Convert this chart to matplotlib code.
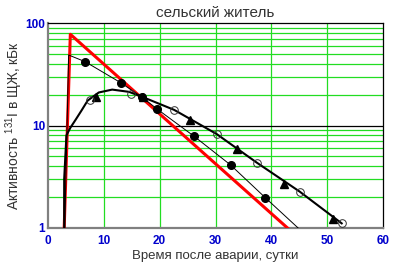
import numpy as np
import matplotlib
matplotlib.use('Agg')
import matplotlib.pyplot as plt

plt.rcParams['font.family'] = ['Liberation Sans', 'DejaVu Sans']
plt.rcParams['mathtext.fontset'] = 'custom'
plt.rcParams['mathtext.rm'] = 'Liberation Sans'
plt.rcParams['mathtext.it'] = 'Liberation Sans'

# red model line
red_t = [2.9, 4.0, 42.9]
red_v = [1.0, 77.6, 1.0]

# thin line through filled circles
thin_t = [3.0, 3.7, 6.67, 13.0, 16.9, 19.6, 26.1, 32.7, 38.9, 44.8]
thin_v = [1.0, 48.7, 41.9, 26.2, 18.8, 14.4, 7.9, 4.12, 1.98, 1.0]
fill_t = [6.67, 13.0, 16.9, 19.6, 26.1, 32.7, 38.9]
fill_v = [41.9, 26.2, 18.8, 14.4, 7.9, 4.12, 1.98]

# thick smooth curve
thick_t = [2.9, 2.9, 3.3, 4.0, 5.0, 6.0, 7.1, 9.1, 11.5, 14.5, 16.6, 22.6, 30.2, 37.4, 45.1, 52.6]
thick_v = [1.0, 3.0, 8.0, 9.5, 11.5, 14.0, 17.5, 21.0, 22.4, 21.3, 19.3, 14.2, 8.26, 4.34, 2.26, 1.11]
open_t = [7.6, 14.9, 22.6, 30.2, 37.4, 45.1, 52.6]
open_v = [17.7, 20.3, 14.2, 8.26, 4.34, 2.26, 1.11]
tri_t = [8.6, 17.0, 25.5, 33.9, 42.2, 51.0]
tri_v = [19.1, 19.0, 11.3, 5.86, 2.67, 1.22]

xticks = [0, 10, 20, 30, 40, 50, 60]
yticks = [1, 10, 100]

fig = plt.figure(figsize=(3.93, 2.68), dpi=100)
ax = fig.add_axes([48/393, 40/268, 335/393, 205/268])
ax.set_yscale('log')
ax.set_xlim(0, 60)
ax.set_ylim(1, 100)

# grid
green = '#22dd22'
for x in [10, 20, 30, 40, 50]:
    ax.axvline(x, color=green, lw=0.9, zorder=1)
for d in [1, 10]:
    for k in range(2, 10):
        ax.axhline(k*d, color=green, lw=0.9, zorder=1)
ax.axhline(10, color='black', lw=0.9, zorder=1)

ax.plot(red_t, red_v, color='#ff0000', lw=2.2, zorder=3)
ax.plot(thin_t, thin_v, color='black', lw=0.7, zorder=4)
ax.plot(fill_t, fill_v, 'o', color='black', ms=5.5, zorder=5)
ax.plot(thick_t, thick_v, color='black', lw=1.5, zorder=4)
ax.plot(tri_t, tri_v, '^', color='black', ms=5.5, zorder=5)
ax.plot(open_t, open_v, 'o', mfc='none', mec='#333333', mew=0.7, ms=5.5, zorder=5)

ax.set_xticks(xticks)
ax.set_xticklabels([str(x) for x in xticks])
ax.set_yticks(yticks)
ax.set_yticklabels([str(y) for y in yticks])
ax.yaxis.set_minor_locator(matplotlib.ticker.NullLocator())
ax.tick_params(length=0, labelcolor='#0000cc', labelsize=8.5)
ax.tick_params(axis='x', pad=5)
ax.tick_params(axis='y', pad=2)
for lab in ax.get_xticklabels() + ax.get_yticklabels():
    lab.set_fontweight('bold')

for s in ['left', 'bottom']:
    ax.spines[s].set_color('#808080')
    ax.spines[s].set_linewidth(1.6)
for s in ['top', 'right']:
    ax.spines[s].set_color('black')
    ax.spines[s].set_linewidth(0.9)

ax.set_title('сельский житель', fontsize=11, color='#333333', pad=4)
ax.set_xlabel('Время после аварии, сутки', fontsize=9.5, color='#333333', labelpad=2)
ax.set_ylabel('Активность $^{131}$I в ЩЖ, кБк', fontsize=10, color='#333333')
ax.yaxis.set_label_coords(-0.07, 0.5)

fig.savefig('out.png', dpi=100)
